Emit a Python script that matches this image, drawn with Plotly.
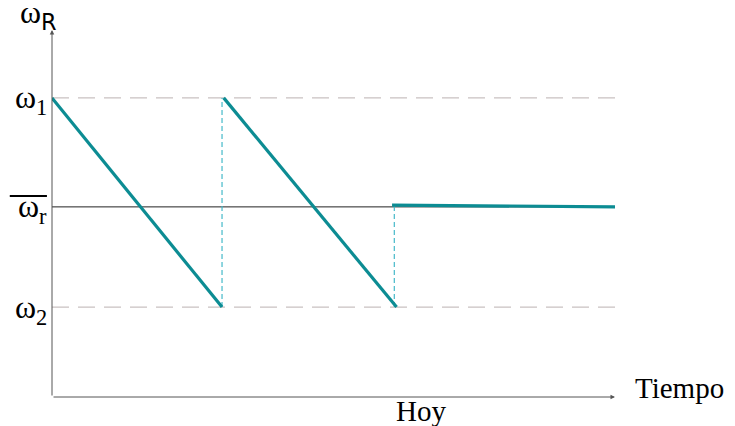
import plotly.graph_objects as go

# ---- data (time in arbitrary units, speed in arbitrary units) ----
w1_level = 8.15
wr_level = 5.18
w2_level = 2.45
t_end = 10.0

seg1_t = [0.0, 3.02]
seg1_w = [8.15, 2.45]
seg2_t = [3.05, 6.12]
seg2_w = [8.15, 2.45]
flat_t = [6.04, 10.0]
flat_w = [5.23, 5.18]

jump1_t = [3.02, 3.02]
jump1_w = [2.45, 8.15]
jump2_t = [6.08, 6.08]
jump2_w = [2.45, 5.23]

y_labels = ["ω<sub>1</sub>", "ω<sub>r</sub>", "ω<sub>2</sub>"]
y_levels = [w1_level, wr_level, w2_level]
x_title = "Tiempo"
x_mark = "Hoy"
x_mark_pos = 6.55
y_title = "ω<sub><span style='font-family:DejaVu Sans'>R</span></sub>"

TEAL = "#0c8c93"
TEAL_LIGHT = "#45b9c9"
GRID = "#c9c1c1"
AXIS = "#555555"
FONT = "Liberation Serif"

fig = go.Figure()

# reference levels
fig.add_trace(go.Scatter(x=[0, t_end], y=[w1_level, w1_level], mode="lines",
                         line=dict(color=GRID, width=1.3, dash="17px,9px"), hoverinfo="skip"))
fig.add_trace(go.Scatter(x=[0, t_end], y=[w2_level, w2_level], mode="lines",
                         line=dict(color=GRID, width=1.3, dash="17px,9px"), hoverinfo="skip"))
fig.add_trace(go.Scatter(x=[0, t_end], y=[wr_level, wr_level], mode="lines",
                         line=dict(color="#222222", width=1), hoverinfo="skip"))

# vertical jumps
for tt, ww in [(jump1_t, jump1_w), (jump2_t, jump2_w)]:
    fig.add_trace(go.Scatter(x=tt, y=ww, mode="lines",
                             line=dict(color=TEAL_LIGHT, width=1.2, dash="5px,3px"), hoverinfo="skip"))

# main teal segments
for tt, ww in [(seg1_t, seg1_w), (seg2_t, seg2_w), (flat_t, flat_w)]:
    fig.add_trace(go.Scatter(x=tt, y=ww, mode="lines",
                             line=dict(color=TEAL, width=3.2), hoverinfo="skip"))

annotations = []
# axis arrows
annotations.append(dict(x=t_end, y=0, ax=0, ay=0, xref="x", yref="y", axref="x", ayref="y",
                        showarrow=True, arrowhead=2, arrowsize=0.9, arrowwidth=1, arrowcolor=AXIS, text=""))
annotations.append(dict(x=0, y=10, ax=0, ay=0, xref="x", yref="y", axref="x", ayref="y",
                        showarrow=True, arrowhead=2, arrowsize=0.9, arrowwidth=1, arrowcolor=AXIS, text=""))

# y level labels
for lab, lev in zip(y_labels, y_levels):
    annotations.append(dict(x=0, y=lev, xref="x", yref="y", text=lab, showarrow=False,
                            xanchor="right", yanchor="middle", xshift=-3, yshift=-2,
                            font=dict(family=FONT, size=32, color="black")))
annotations.append(dict(x=0, y=10, xref="x", yref="y", text=y_title, showarrow=False,
                        xanchor="center", yanchor="bottom", xshift=-14, yshift=-7,
                        font=dict(family=FONT, size=32, color="black")))
annotations.append(dict(x=t_end, y=0, xref="x", yref="y", text=x_title, showarrow=False,
                        xanchor="left", yanchor="middle", xshift=18, yshift=9,
                        font=dict(family=FONT, size=29, color="black")))
annotations.append(dict(x=x_mark_pos, y=0, xref="x", yref="y", text=x_mark, showarrow=False,
                        xanchor="center", yanchor="top", yshift=4,
                        font=dict(family=FONT, size=29, color="black")))

# the page has an 8px body margin, so the figure is sized to fit inside the window
fig.update_layout(
    width=727, height=418,
    margin=dict(l=44, r=120, t=22, b=29),
    plot_bgcolor="white", paper_bgcolor="white",
    showlegend=False,
    annotations=annotations,
    shapes=[dict(type="line", xref="paper", yref="y", x0=-0.075, x1=-0.009,
                 y0=wr_level + 0.3, y1=wr_level + 0.3, line=dict(color="black", width=2))],
    xaxis=dict(range=[0, t_end], visible=False, fixedrange=True),
    yaxis=dict(range=[0, 10], visible=False, fixedrange=True),
)

fig.write_html("out.html")
